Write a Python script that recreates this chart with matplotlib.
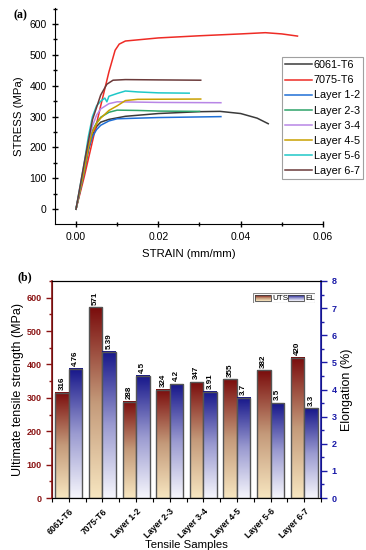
import numpy as np
import matplotlib
matplotlib.use('Agg')
import matplotlib.pyplot as plt
from matplotlib.colors import LinearSegmentedColormap
from matplotlib.ticker import MultipleLocator
from matplotlib.patches import Rectangle

plt.rcParams['font.family'] = ['Liberation Sans', 'DejaVu Sans']

# ── (a) stress-strain curves ───────────────────────────────────────────
curve_names = ['6061-T6', '7075-T6', 'Layer 1-2', 'Layer 2-3',
               'Layer 3-4', 'Layer 4-5', 'Layer 5-6', 'Layer 6-7']
curve_colors = ['#3a3a3a', '#ee2b25', '#1f6fd6', '#2ea36a',
                '#b886e6', '#c9a000', '#1fc8c8', '#6b3a3a']

strain_6061 = [0, 0.002, 0.003, 0.004, 0.005, 0.006, 0.008, 0.012, 0.02, 0.03, 0.035, 0.04, 0.044, 0.0467]
stress_6061 = [0, 120, 190, 240, 268, 282, 291, 301, 310, 316, 317, 310, 295, 277]
strain_7075 = [0, 0.002, 0.004, 0.006, 0.008, 0.0095, 0.0105, 0.012, 0.02, 0.03, 0.04, 0.046, 0.05, 0.0538]
stress_7075 = [0, 105, 220, 335, 445, 515, 535, 545, 555, 562, 568, 572, 568, 561]
strain_l12 = [0, 0.002, 0.003, 0.004, 0.005, 0.006, 0.008, 0.01, 0.02, 0.0352]
stress_l12 = [0, 120, 195, 235, 258, 272, 286, 293, 297, 300]
strain_l23 = [0, 0.002, 0.003, 0.004, 0.005, 0.006, 0.008, 0.01, 0.015, 0.02, 0.03]
stress_l23 = [0, 130, 210, 255, 280, 298, 314, 321, 320, 318, 317]
strain_l34 = [0, 0.002, 0.003, 0.004, 0.005, 0.006, 0.008, 0.01, 0.02, 0.0352]
stress_l34 = [0, 140, 215, 270, 305, 325, 342, 348, 346, 345]
strain_l45 = [0, 0.002, 0.003, 0.004, 0.005, 0.006, 0.008, 0.01, 0.012, 0.015, 0.0303]
stress_l45 = [0, 125, 200, 250, 278, 295, 320, 335, 352, 356, 357]
strain_l56 = [0, 0.002, 0.003, 0.004, 0.005, 0.006, 0.007, 0.0075, 0.008, 0.01, 0.012, 0.015, 0.02, 0.0275]
stress_l56 = [0, 150, 235, 300, 335, 350, 360, 348, 366, 375, 383, 380, 377, 376]
strain_l67 = [0, 0.002, 0.004, 0.006, 0.0075, 0.009, 0.012, 0.02, 0.0303]
stress_l67 = [0, 150, 290, 370, 405, 418, 420, 419, 418]

curve_strain = [strain_6061, strain_7075, strain_l12, strain_l23, strain_l34, strain_l45, strain_l56, strain_l67]
curve_stress = [stress_6061, stress_7075, stress_l12, stress_l23, stress_l34, stress_l45, stress_l56, stress_l67]

# ── (b) UTS / elongation bars ──────────────────────────────────────────
samples = ['6061-T6', '7075-T6', 'Layer 1-2', 'Layer 2-3',
           'Layer 3-4', 'Layer 4-5', 'Layer 5-6', 'Layer 6-7']
uts = [316, 571, 288, 324, 347, 355, 382, 420]
elong = [4.76, 5.39, 4.5, 4.2, 3.91, 3.7, 3.5, 3.3]
uts_labels = ['316', '571', '288', '324', '347', '355', '382', '420']
el_labels = ['4.76', '5.39', '4.5', '4.2', '3.91', '3.7', '3.5', '3.3']

RED = '#8b1414'
BLUE = '#1a1aa8'
cmap_uts = LinearSegmentedColormap.from_list('uts', ['#f7e6c0', '#c49a7a', '#7a0c0c'])
cmap_el = LinearSegmentedColormap.from_list('el', ['#f6f6fc', '#9a9ad0', '#16168a'])
grad = np.linspace(1, 0, 256).reshape(-1, 1)

fig = plt.figure(figsize=(3.66, 5.5), dpi=100)

# ── 패널 (a) ───────────────────────────────────────────────────────────
ax = fig.add_axes([55/366, 1-224/550, 268/366, 216/550])
for xs, ys, name, c in zip(curve_strain, curve_stress, curve_names, curve_colors):
    ax.plot(xs, ys, color=c, lw=1.1, label=name)
ax.set_xlim(-0.0051, 0.06)
ax.set_ylim(-48, 652)
ax.spines['top'].set_visible(False)
ax.spines['right'].set_visible(False)
ax.set_xticks([0, 0.02, 0.04, 0.06])
ax.set_xticklabels(['0.00', '0.02', '0.04', '0.06'])
ax.xaxis.set_minor_locator(MultipleLocator(0.01))
ax.set_yticks(range(0, 601, 100))
ax.yaxis.set_minor_locator(MultipleLocator(50))
ax.tick_params(which='major', direction='inout', length=5, width=1, labelsize=7.5)
ax.tick_params(which='minor', direction='inout', length=3, width=1)
ax.set_xlabel('STRAIN (mm/mm)', fontsize=8.2, labelpad=5)
ax.set_ylabel('STRESS (MPa)', fontsize=8.2, labelpad=4)
leg = ax.legend(loc='upper left', bbox_to_anchor=(282/366, 1-57/550),
                bbox_transform=fig.transFigure, fontsize=7.8, frameon=True,
                fancybox=False, edgecolor='#888888', handlelength=2.5,
                handletextpad=0.15, labelspacing=0.47, borderpad=0.3,
                borderaxespad=0)
leg.get_frame().set_linewidth(0.8)
fig.text(13/366, 1-15/550, '(a)', fontsize=8.5, fontweight='bold',
         family=['Liberation Serif', 'DejaVu Serif'], va='center')

# ── 패널 (b) ───────────────────────────────────────────────────────────
bx = fig.add_axes([52/366, 1-498/550, 269/366, 217/550])
bx2 = bx.twinx()
w = 0.4
x = np.arange(len(samples))
for i, v in enumerate(uts):
    bx.imshow(grad, extent=[x[i]-w, x[i], 0, v], aspect='auto', cmap=cmap_uts, zorder=2)
bx.bar(x - w/2, uts, w, fill=False, edgecolor='#555555', lw=1.0, zorder=3)
for i, v in enumerate(uts):
    bx.text(x[i]-w/2, v+8, uts_labels[i], rotation=90, ha='center', va='bottom',
            fontsize=5.8, fontweight='bold')
for i, v in enumerate(elong):
    bx2.imshow(grad, extent=[x[i], x[i]+w, 0, v], aspect='auto', cmap=cmap_el, zorder=2)
bx2.bar(x + w/2, elong, w, fill=False, edgecolor='#555555', lw=1.0, zorder=3)
for i, v in enumerate(elong):
    bx2.text(x[i]+w/2, v+0.1, el_labels[i], rotation=90, ha='center', va='bottom',
             fontsize=5.8, fontweight='bold')

bx.set_xlim(-0.5, len(samples)-0.5)
bx2.set_xlim(-0.5, len(samples)-0.5)
bx.set_ylim(0, 650)
bx2.set_ylim(0, 8)
bx.set_xticks(x)
bx.set_xticklabels(samples, rotation=45, ha='right', rotation_mode='anchor',
                   fontsize=6.2, fontweight='bold')
bx.xaxis.set_minor_locator(MultipleLocator(0.5))
bx.set_yticks(range(0, 601, 100))
bx.yaxis.set_minor_locator(MultipleLocator(50))
bx2.set_yticks(range(0, 9))
bx2.yaxis.set_minor_locator(MultipleLocator(0.5))
bx.tick_params(axis='x', which='both', length=3, width=0.8)
bx.tick_params(axis='y', which='major', length=4, width=1, colors=RED, labelsize=6.5)
bx.tick_params(axis='y', which='minor', length=2.5, width=1, colors=RED)
bx2.tick_params(axis='y', which='major', length=4, width=1, colors=BLUE, labelsize=6.5)
bx2.tick_params(axis='y', which='minor', length=2.5, width=1, colors=BLUE)
for t in bx.get_yticklabels():
    t.set_fontweight('bold')
for t in bx2.get_yticklabels():
    t.set_fontweight('bold')
bx2.spines['left'].set_color(RED)
bx2.spines['left'].set_linewidth(1.2)
bx2.spines['right'].set_color(BLUE)
bx2.spines['right'].set_linewidth(1.2)
bx.set_ylabel('Ultimate tensile strength (MPa)', fontsize=9, labelpad=2)
bx2.set_ylabel('Elongation (%)', fontsize=9, labelpad=3)
bx.set_xlabel('Tensile Samples', fontsize=8.2, labelpad=0)
fig.text(17/366, 1-277/550, '(b)', fontsize=8.5, fontweight='bold',
         family=['Liberation Serif', 'DejaVu Serif'], va='center')

# gradient legend for (b)
lg = fig.add_axes([253/366, 1-303/550, 62/366, 10/550])
lg.set_xlim(0, 62)
lg.set_ylim(0, 10)
lg.axis('off')
lg.add_patch(Rectangle((0, 0), 62, 10, fill=True, facecolor='white',
                       edgecolor='#888888', lw=0.8))
lg.imshow(grad, extent=[2, 18, 2, 8], aspect='auto', cmap=cmap_uts, zorder=2)
lg.add_patch(Rectangle((2, 2), 16, 6, fill=False, edgecolor='#444444', lw=0.6, zorder=3))
lg.text(19, 5, 'UTS', fontsize=5.8, va='center', ha='left')
lg.imshow(grad, extent=[35, 51, 2, 8], aspect='auto', cmap=cmap_el, zorder=2)
lg.add_patch(Rectangle((35, 2), 16, 6, fill=False, edgecolor='#444444', lw=0.6, zorder=3))
lg.text(52, 5, 'EL', fontsize=5.8, va='center', ha='left')
lg.set_xlim(0, 62)
lg.set_ylim(0, 10)

fig.savefig('out.png', dpi=100)
